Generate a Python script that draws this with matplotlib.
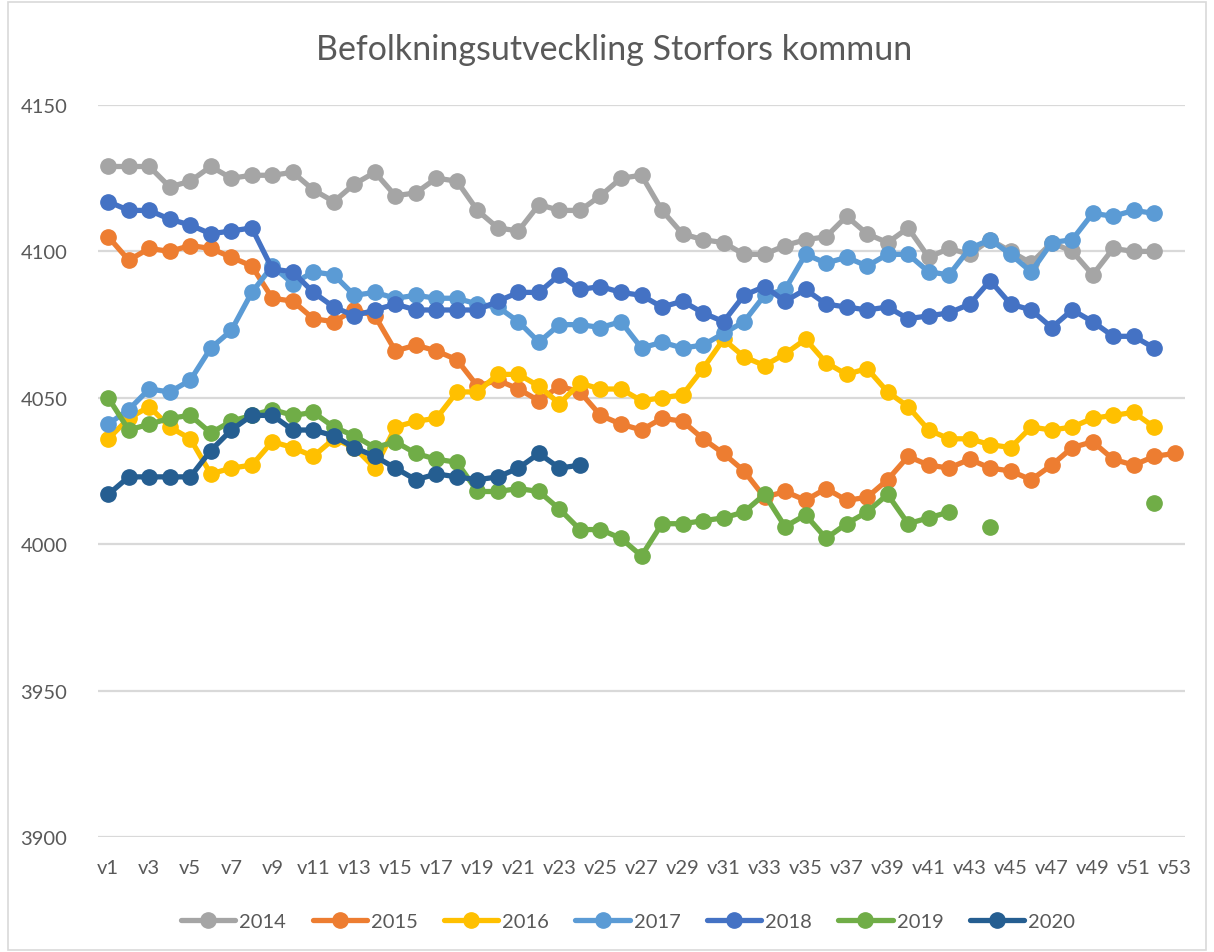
import numpy as np
import matplotlib
matplotlib.use('Agg')
import matplotlib.pyplot as plt
from matplotlib.patches import Rectangle

nan = np.nan

# weeks v1..v53
weeks = ['v' + str(i) for i in range(1, 54)]

y2014 = [4129, 4129, 4129, 4122, 4124, 4129, 4125, 4126, 4126, 4127,
         4121, 4117, 4123, 4127, 4119, 4120, 4125, 4124, 4114, 4108,
         4107, 4116, 4114, 4114, 4119, 4125, 4126, 4114, 4106, 4104,
         4103, 4099, 4099, 4102, 4104, 4105, 4112, 4106, 4103, 4108,
         4098, 4101, 4099, 4104, 4100, 4096, 4103, 4100, 4092, 4101,
         4100, 4100, nan]

y2015 = [4105, 4097, 4101, 4100, 4102, 4101, 4098, 4095, 4084, 4083,
         4077, 4076, 4080, 4078, 4066, 4068, 4066, 4063, 4054, 4056,
         4053, 4049, 4054, 4052, 4044, 4041, 4039, 4043, 4042, 4036,
         4031, 4025, 4016, 4018, 4015, 4019, 4015, 4016, 4022, 4030,
         4027, 4026, 4029, 4026, 4025, 4022, 4027, 4033, 4035, 4029,
         4027, 4030, 4031]

y2016 = [4036, 4043, 4047, 4040, 4036, 4024, 4026, 4027, 4035, 4033,
         4030, 4036, 4033, 4026, 4040, 4042, 4043, 4052, 4052, 4058,
         4058, 4054, 4048, 4055, 4053, 4053, 4049, 4050, 4051, 4060,
         4070, 4064, 4061, 4065, 4070, 4062, 4058, 4060, 4052, 4047,
         4039, 4036, 4036, 4034, 4033, 4040, 4039, 4040, 4043, 4044,
         4045, 4040, nan]

y2017 = [4041, 4046, 4053, 4052, 4056, 4067, 4073, 4086, 4095, 4089,
         4093, 4092, 4085, 4086, 4084, 4085, 4084, 4084, 4082, 4081,
         4076, 4069, 4075, 4075, 4074, 4076, 4067, 4069, 4067, 4068,
         4072, 4076, 4085, 4087, 4099, 4096, 4098, 4095, 4099, 4099,
         4093, 4092, 4101, 4104, 4099, 4093, 4103, 4104, 4113, 4112,
         4114, 4113, nan]

y2018 = [4117, 4114, 4114, 4111, 4109, 4106, 4107, 4108, 4094, 4093,
         4086, 4081, 4078, 4080, 4082, 4080, 4080, 4080, 4080, 4083,
         4086, 4086, 4092, 4087, 4088, 4086, 4085, 4081, 4083, 4079,
         4076, 4085, 4088, 4083, 4087, 4082, 4081, 4080, 4081, 4077,
         4078, 4079, 4082, 4090, 4082, 4080, 4074, 4080, 4076, 4071,
         4071, 4067, nan]

y2019 = [4050, 4039, 4041, 4043, 4044, 4038, 4042, 4044, 4046, 4044,
         4045, 4040, 4037, 4033, 4035, 4031, 4029, 4028, 4018, 4018,
         4019, 4018, 4012, 4005, 4005, 4002, 3996, 4007, 4007, 4008,
         4009, 4011, 4017, 4006, 4010, 4002, 4007, 4011, 4017, 4007,
         4009, 4011, nan, 4006, nan, nan, nan, nan, nan, nan,
         nan, 4014, nan]

y2020 = [4017, 4023, 4023, 4023, 4023, 4032, 4039, 4044, 4044, 4039,
         4039, 4037, 4033, 4030, 4026, 4022, 4024, 4023, 4022, 4023,
         4026, 4031, 4026, 4027] + [nan] * 29

series = [('2014', y2014, '#A5A5A5'),
          ('2015', y2015, '#ED7D31'),
          ('2016', y2016, '#FFC000'),
          ('2017', y2017, '#5B9BD5'),
          ('2018', y2018, '#4472C4'),
          ('2019', y2019, '#70AD47'),
          ('2020', y2020, '#255E91')]

plt.rcParams['font.family'] = ['Lato', 'DejaVu Sans']
txt = '#595959'

fig = plt.figure(figsize=(12.14, 9.53), dpi=100)
ax = fig.add_axes([98 / 1214, 1 - 838 / 953, 1087 / 1214, 732 / 953])

x = np.arange(len(weeks))
for name, vals, col in series:
    ax.plot(x, vals, color=col, lw=3.8, marker='o', ms=11,
            label=name, solid_capstyle='round')

ax.set_ylim(3900, 4150)
ax.set_yticks([3900, 3950, 4000, 4050, 4100, 4150])
ax.set_xlim(-0.5, len(weeks) - 0.5)
ax.set_xticks(x[::2])
ax.set_xticklabels(weeks[::2])
ax.grid(axis='y', color='#D9D9D9', lw=1.6)
ax.set_axisbelow(True)
for s in ax.spines.values():
    s.set_visible(False)
ax.tick_params(axis='both', length=0, labelsize=14.5, colors=txt)
ax.tick_params(axis='y', pad=22)
ax.tick_params(axis='x', pad=16)

fig.text(614 / 1214, 1 - 50 / 953, 'Befolkningsutveckling Storfors kommun',
         ha='center', va='center', fontsize=24.5, color=txt)

leg = fig.legend(loc='center', bbox_to_anchor=(628 / 1214, 1 - 922 / 953),
                 ncol=7, frameon=False, fontsize=14.5, handlelength=2.7,
                 handletextpad=0.2, columnspacing=1.3)
for t in leg.get_texts():
    t.set_color(txt)

fig.patches.append(Rectangle((8 / 1214, 2 / 953), 1198 / 1214, 948 / 953,
                             transform=fig.transFigure, fill=False,
                             edgecolor='#D9D9D9', lw=1.2))

fig.savefig('out.png', dpi=100)
